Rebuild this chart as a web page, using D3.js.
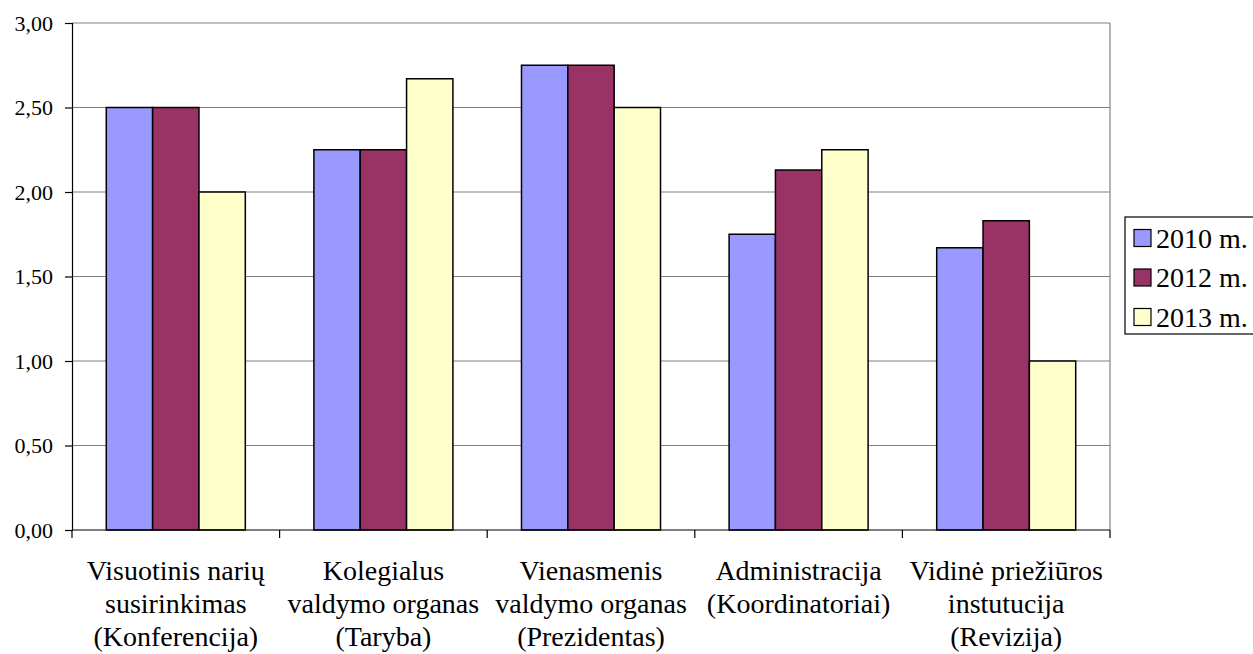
<!DOCTYPE html>
<html>
<head>
<meta charset="utf-8">
<script src="https://cdn.jsdelivr.net/npm/d3@7"></script>
<style>
  body { margin: 0; background: #fff; }
</style>
</head>
<body>
<svg id="chart" width="1253" height="654"></svg>
<script>
// data
var categories = [
  ["Visuotinis narių", "susirinkimas", "(Konferencija)"],
  ["Kolegialus", "valdymo organas", "(Taryba)"],
  ["Vienasmenis", "valdymo organas", "(Prezidentas)"],
  ["Administracija", "(Koordinatoriai)"],
  ["Vidinė priežiūros", "instutucija", "(Revizija)"]
];
var seriesNames = ["2010 m.", "2012 m.", "2013 m."];
var values2010 = [2.50, 2.25, 2.75, 1.75, 1.67];
var values2012 = [2.50, 2.25, 2.75, 2.13, 1.83];
var values2013 = [2.00, 2.67, 2.50, 2.25, 1.00];
var yTicks = [0, 0.5, 1, 1.5, 2, 2.5, 3];

var colors = ["#9999ff", "#993366", "#ffffcc"];
var seriesValues = [values2010, values2012, values2013];

var svg = d3.select("#chart"),
    margin = {top: 23, right: 143, bottom: 124, left: 72},
    width = +svg.attr("width") - margin.left - margin.right,
    height = +svg.attr("height") - margin.top - margin.bottom;

var g = svg.append("g")
    .attr("transform", "translate(" + margin.left + "," + margin.top + ")");

var x0 = d3.scaleBand().domain(d3.range(categories.length)).range([0, width]);
var x1 = d3.scaleBand().domain(d3.range(seriesNames.length))
    .range([0, x0.bandwidth()]).paddingOuter(0.74).paddingInner(0);
var y = d3.scaleLinear().domain([0, 3]).range([height, 0]);

var fmt = function(d) { return d3.format(".2f")(d).replace(".", ","); };

// gridlines
g.append("g").selectAll("line")
  .data(yTicks.filter(function(d) { return d > 0; }))
  .enter().append("line")
    .attr("x1", 0).attr("x2", width)
    .attr("y1", function(d) { return y(d); })
    .attr("y2", function(d) { return y(d); })
    .attr("stroke", "#808080").attr("stroke-width", 1.2);

// right border of plot
g.append("line")
    .attr("x1", width).attr("x2", width)
    .attr("y1", 0).attr("y2", height)
    .attr("stroke", "#808080").attr("stroke-width", 1.2);

// bars
var groups = g.selectAll(".grp")
  .data(categories)
  .enter().append("g")
    .attr("class", "grp")
    .attr("transform", function(d, i) { return "translate(" + x0(i) + ",0)"; });

groups.selectAll("rect")
  .data(function(d, i) { return seriesValues.map(function(s, k) { return {k: k, v: s[i]}; }); })
  .enter().append("rect")
    .attr("x", function(d) { return x1(d.k); })
    .attr("y", function(d) { return y(d.v); })
    .attr("width", x1.bandwidth())
    .attr("height", function(d) { return height - y(d.v); })
    .attr("fill", function(d) { return colors[d.k]; })
    .attr("stroke", "#000").attr("stroke-width", 1.5);

// y axis
var yAxis = g.append("g")
    .call(d3.axisLeft(y).tickValues(yTicks).tickFormat(fmt).tickSize(7).tickPadding(12));
yAxis.attr("font-family", "Liberation Serif").attr("font-size", 22);
yAxis.select(".domain").attr("stroke", "#000").attr("stroke-width", 1.2);
yAxis.selectAll(".tick line").attr("stroke", "#000").attr("stroke-width", 1.2);
yAxis.selectAll("text").attr("fill", "#000");

// x axis with ticks at category boundaries
var xAxis = g.append("g").attr("transform", "translate(0," + height + ")")
    .attr("font-family", "Liberation Serif").attr("font-size", 28);
xAxis.append("line")
    .attr("x1", 0).attr("x2", width)
    .attr("stroke", "#000").attr("stroke-width", 1.2);
xAxis.selectAll(".bt")
  .data(d3.range(categories.length + 1))
  .enter().append("line")
    .attr("class", "bt")
    .attr("x1", function(d) { return d * x0.step(); })
    .attr("x2", function(d) { return d * x0.step(); })
    .attr("y1", 0).attr("y2", 8)
    .attr("stroke", "#000").attr("stroke-width", 1.2);

var labels = xAxis.selectAll(".xl")
  .data(categories)
  .enter().append("text")
    .attr("class", "xl")
    .attr("text-anchor", "middle")
    .attr("x", function(d, i) { return x0(i) + x0.bandwidth() / 2; })
    .attr("y", 50);
labels.selectAll("tspan")
  .data(function(d) { return d; })
  .enter().append("tspan")
    .attr("x", function() { return d3.select(this.parentNode).attr("x"); })
    .attr("dy", function(d, i) { return i === 0 ? 0 : 33; })
    .text(function(d) { return d; });

// legend (runs off the right edge like the original)
var legend = svg.append("g").attr("transform", "translate(1125,217)")
    .attr("font-family", "Liberation Serif").attr("font-size", 28);
legend.append("rect")
    .attr("width", 140).attr("height", 117)
    .attr("fill", "#fff").attr("stroke", "#000").attr("stroke-width", 1.2);
var items = legend.selectAll(".li")
  .data(seriesNames)
  .enter().append("g")
    .attr("class", "li")
    .attr("transform", function(d, i) { return "translate(0," + (21 + i * 39.5) + ")"; });
items.append("rect")
    .attr("x", 9).attr("y", -8.5)
    .attr("width", 17).attr("height", 17)
    .attr("fill", function(d, i) { return colors[i]; })
    .attr("stroke", "#000").attr("stroke-width", 1.2);
items.append("text")
    .attr("x", 31).attr("dy", "0.35em")
    .text(function(d) { return d; });
</script>
</body>
</html>
